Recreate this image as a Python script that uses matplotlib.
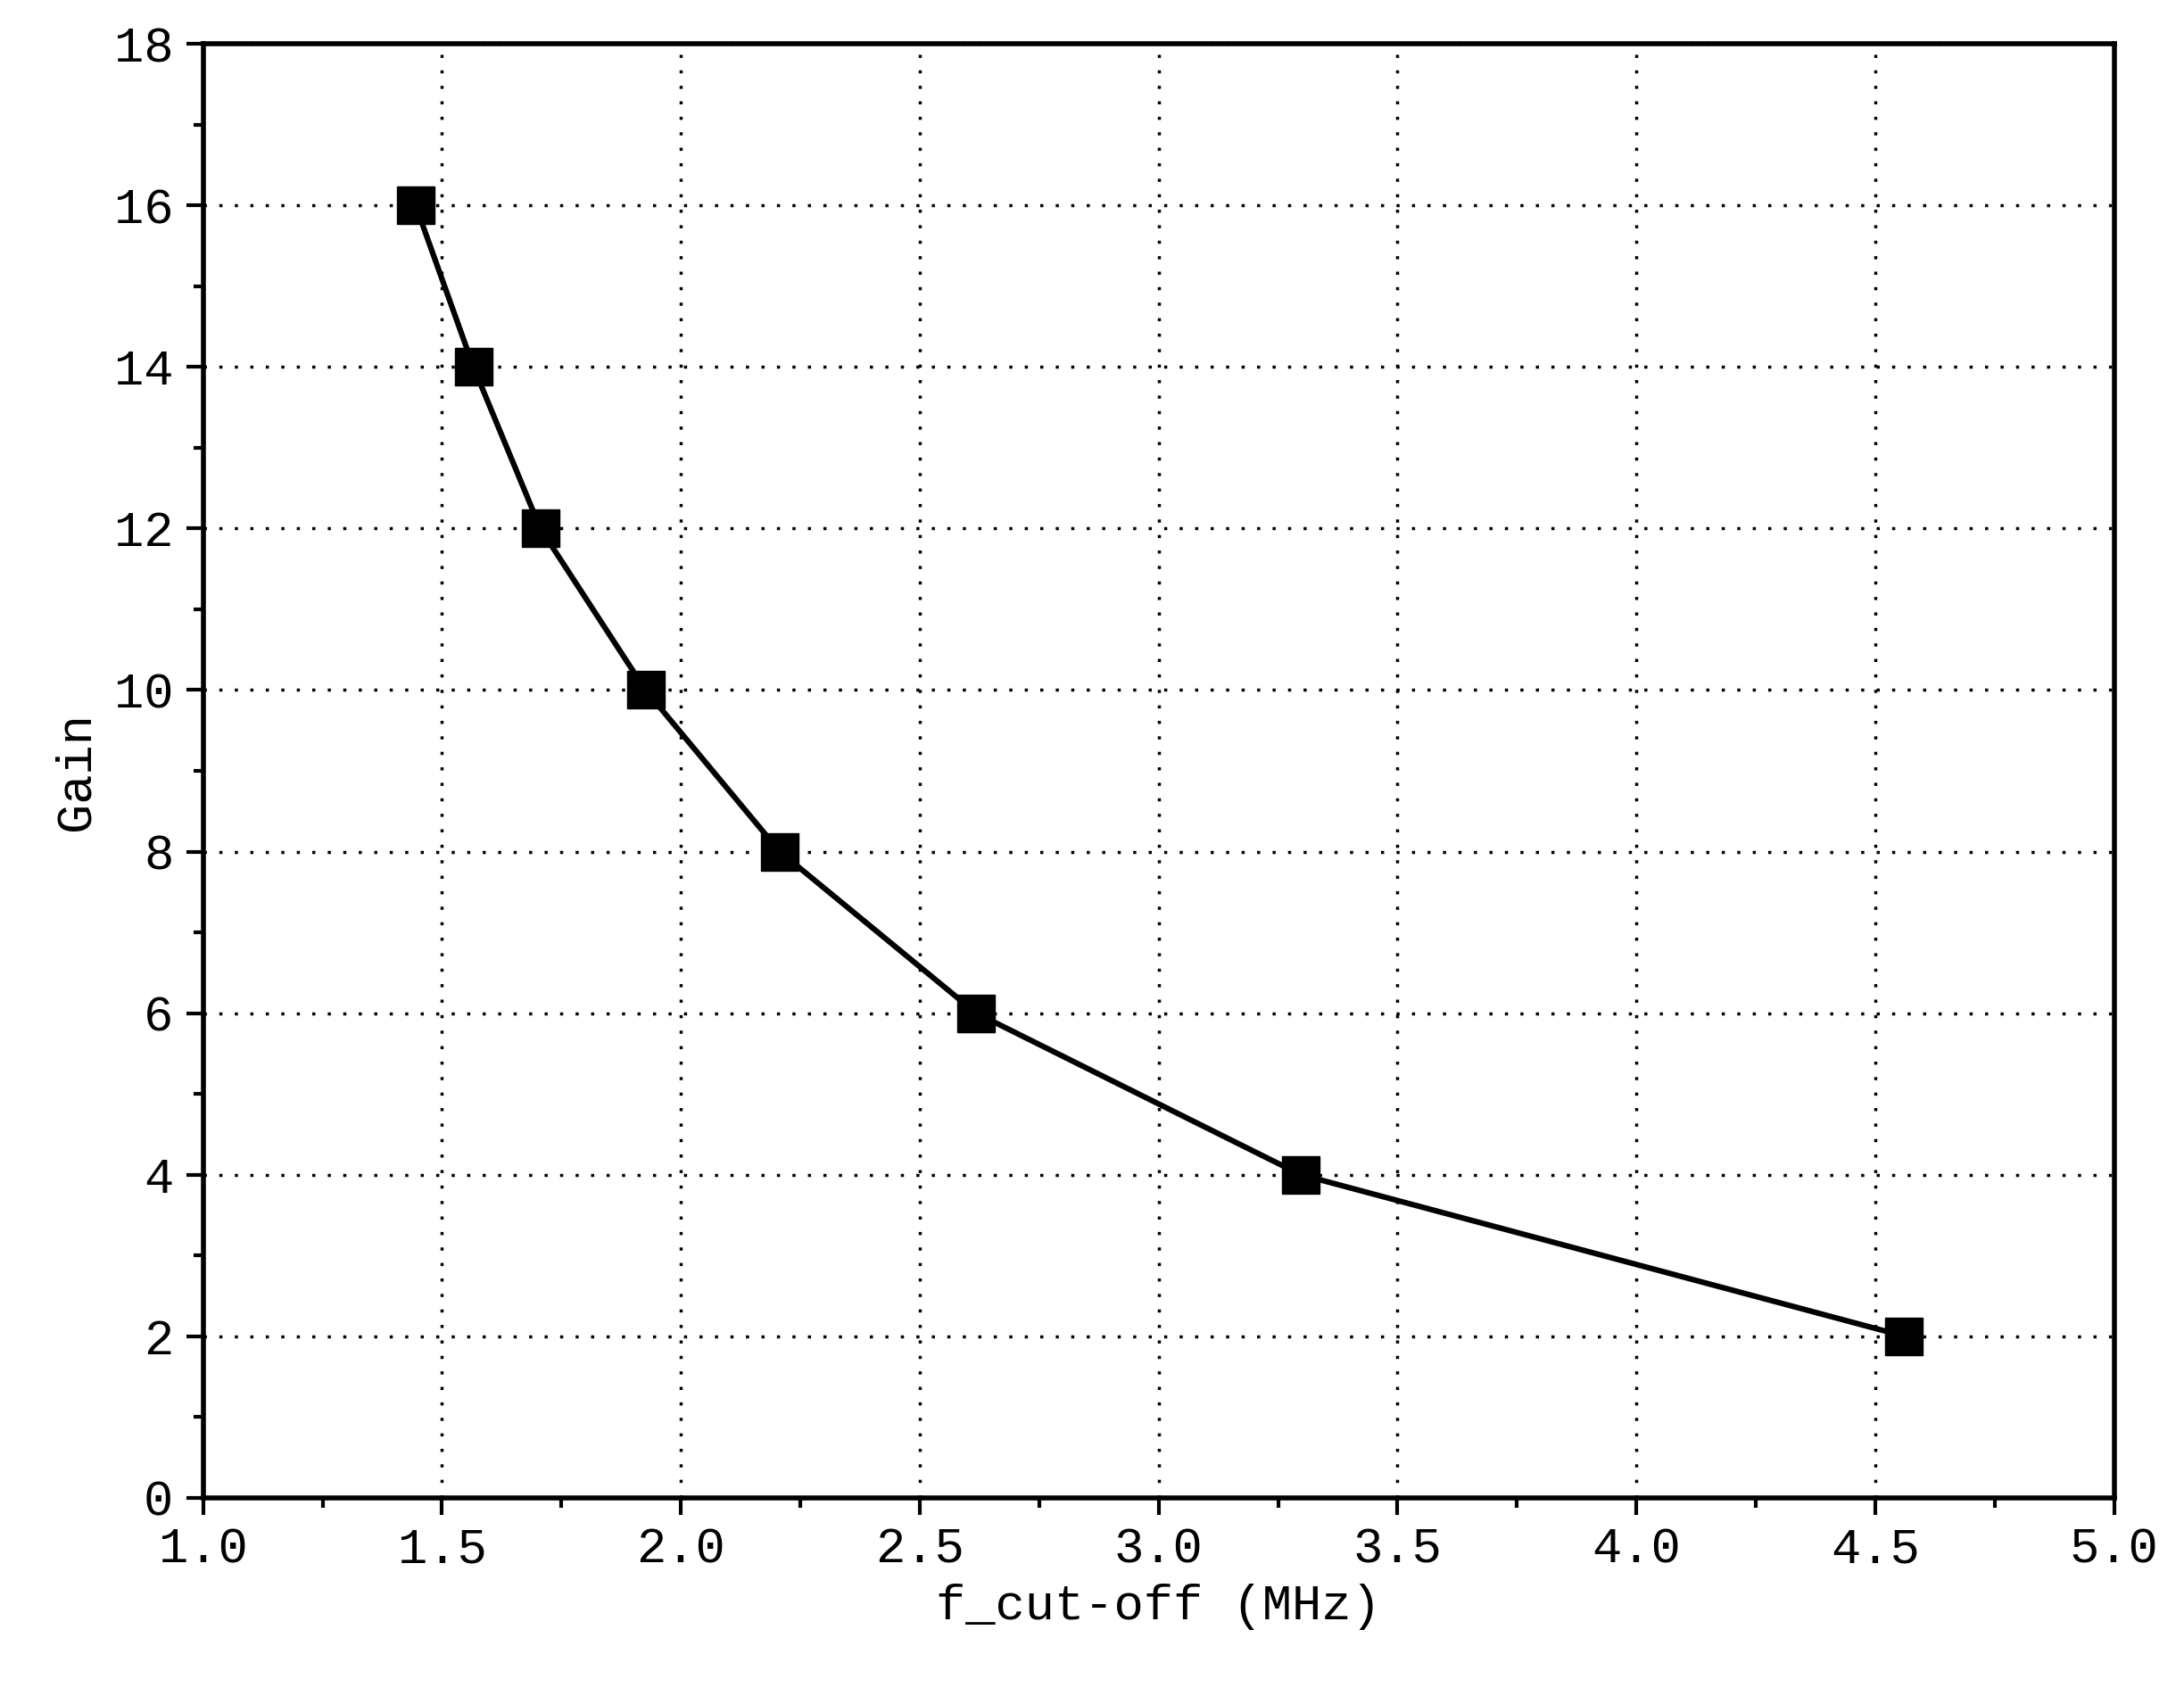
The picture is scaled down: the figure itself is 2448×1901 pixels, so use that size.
import matplotlib
matplotlib.use("Agg")
import matplotlib.pyplot as plt
from matplotlib.ticker import MultipleLocator

# cut-off frequency (MHz) vs gain
f_cutoff = [1.445, 1.566, 1.706, 1.926, 2.207, 2.618, 3.297, 4.560]
gain = [16, 14, 12, 10, 8, 6, 4, 2]

plt.rcParams['font.family'] = ['Liberation Mono', 'DejaVu Sans Mono']

fig = plt.figure(figsize=(24.48, 19.01), dpi=100)
ax = fig.add_axes([0.093, 0.117, 0.875, 0.857])

ax.plot(f_cutoff, gain, color="black", lw=4.5, marker="s", ms=30, zorder=3)

ax.set_xlim(1.0, 5.0)
ax.set_ylim(0, 18)
ax.xaxis.set_major_locator(MultipleLocator(0.5))
ax.xaxis.set_minor_locator(MultipleLocator(0.25))
ax.yaxis.set_major_locator(MultipleLocator(2))
ax.yaxis.set_minor_locator(MultipleLocator(1))
ax.xaxis.set_major_formatter(lambda v, p: f"{v:.1f}")

ax.grid(True, which="major", color="black", linestyle=(0, (1, 4)), lw=2.5)
ax.tick_params(which="major", direction="out", length=14, width=3, labelsize=40, pad=10)
ax.tick_params(which="minor", direction="out", length=8, width=3)
for s in ax.spines.values():
    s.set_linewidth(4)

ax.set_xlabel("f_cut-off (MHz)", fontsize=40, labelpad=8)
ax.set_ylabel("Gain", fontsize=40, labelpad=12)

fig.savefig("out.png", dpi=100)
